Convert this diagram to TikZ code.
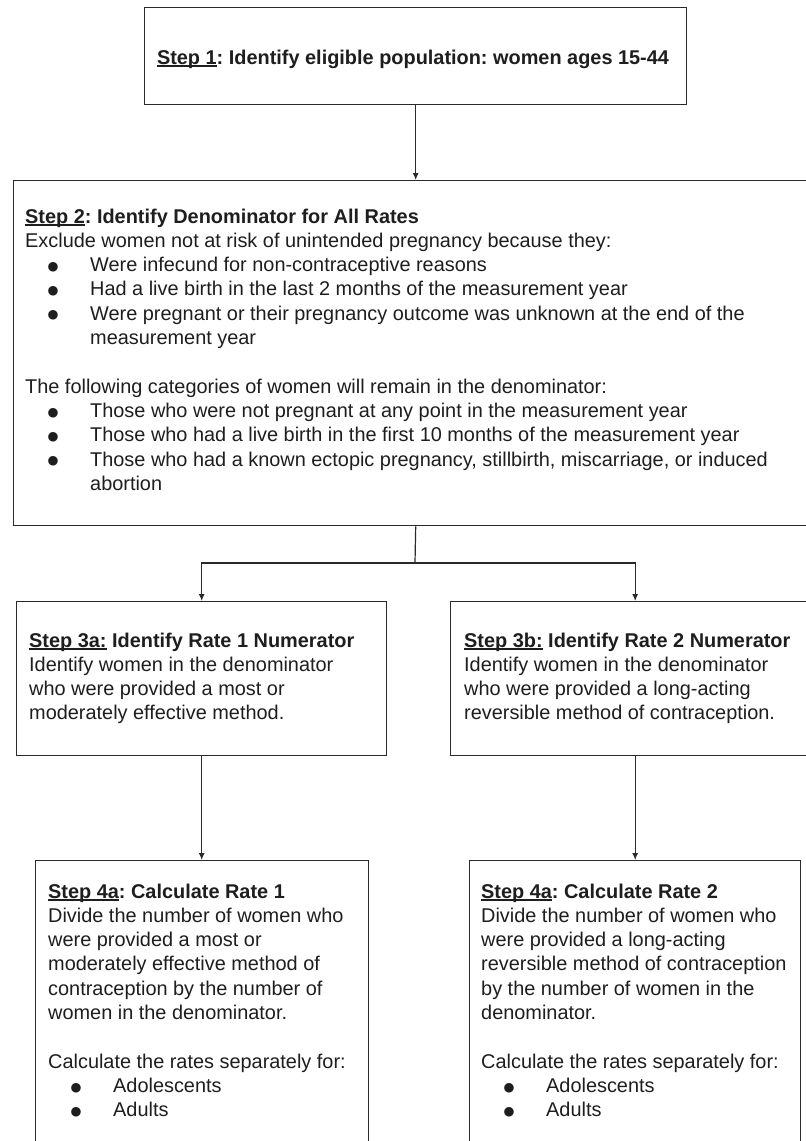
\documentclass[tikz,border=0pt]{standalone}
\usepackage{fontspec}
\setmainfont{Liberation Sans}
\newfontfamily\dv{DejaVu Sans}
\usetikzlibrary{arrows.meta}
\definecolor{ink}{HTML}{1E1E1E}
\definecolor{edge}{HTML}{2A2A2A}
\frenchspacing
\newcommand\ulx[1]{\setbox0\hbox{#1}\rlap{\rule[-2.6pt]{\wd0}{1.3pt}}\box0\relax}
\newcommand\blk[2]{\vtop{\hsize=#1\parindent=0pt\fontsize{19.9}{24.3}\selectfont #2}}
\newcommand\lin[1]{\hbox{#1}}
\newcommand\bigbul{\raisebox{1.3pt}{\dv\fontsize{12.5}{12.5}\selectfont ●}}
\newcommand\bul[1]{\hbox{\hbox to 65pt{\hskip 22.4pt\bigbul\hfil}#1}}
\newcommand\cont[1]{\hbox{\hskip 65pt #1}}
\begin{document}
\begin{tikzpicture}[x=1pt,y=-1pt,
  box/.style={draw=edge,line width=1.4pt,rectangle,anchor=north west,inner sep=0pt},
  conn/.style={draw=edge,line width=1.2pt,-{Latex[length=7pt,width=6pt]}},
  plain/.style={draw=edge,line width=1.2pt},
  txt/.style={inner sep=0pt,text=ink,anchor=base west}]
\clip (0,0) rectangle (806,1141);
\fill[white] (0,0) rectangle (806,1141);
% boxes
\node[box,minimum width=542pt,minimum height=97pt] (b1) at (144,7) {};
\node[box,minimum width=817pt,minimum height=345pt] (b2) at (13,180) {};
\node[box,minimum width=370pt,minimum height=154pt] (b3) at (16,601) {};
\node[box,minimum width=380pt,minimum height=154pt] (b4) at (450,601) {};
\node[box,minimum width=333pt,minimum height=300pt] (b5) at (35,860) {};
\node[box,minimum width=331pt,minimum height=300pt] (b6) at (469,860) {};
% texts
\node[txt,anchor=base] (t1) at (413,64) {\fontsize{19.9}{24.3}\selectfont\bfseries \ulx{Step 1}: Identify eligible population: women ages 15-44};
\node[txt] (t2) at (25,223) {\blk{770pt}{%
\lin{\bfseries\ulx{Step 2}: Identify Denominator for All Rates}
\lin{Exclude women not at risk of unintended pregnancy because they:}
\bul{Were infecund for non-contraceptive reasons}
\bul{Had a live birth in the last 2 months of the measurement year}
\bul{Were pregnant or their pregnancy outcome was unknown at the end of the}
\cont{measurement year}
\lin{}
\lin{The following categories of women will remain in the denominator:}
\bul{Those who were not pregnant at any point in the measurement year}
\bul{Those who had a live birth in the first 10 months of the measurement year}
\bul{Those who had a known ectopic pregnancy, stillbirth, miscarriage, or induced}
\cont{abortion}}};
\node[txt] (t3) at (29,647) {\blk{350pt}{%
\lin{\bfseries\ulx{Step 3a:} Identify Rate 1 Numerator}
\lin{Identify women in the denominator}
\lin{who were provided a most or}
\lin{moderately effective method.}}};
\node[txt] (t4) at (464,647) {\blk{335pt}{%
\lin{\bfseries\ulx{Step 3b:} Identify Rate 2 Numerator}
\lin{Identify women in the denominator}
\lin{who were provided a long-acting}
\lin{reversible method of contraception.}}};
\node[txt] (t5) at (48,898) {\blk{315pt}{%
\lin{\bfseries\ulx{Step 4a}: Calculate Rate 1}
\lin{Divide the number of women who}
\lin{were provided a most or}
\lin{moderately effective method of}
\lin{contraception by the number of}
\lin{women in the denominator.}
\lin{}
\lin{Calculate the rates separately for:}
\bul{Adolescents}
\bul{Adults}}};
\node[txt] (t6) at (481,898) {\blk{315pt}{%
\lin{\bfseries\ulx{Step 4a}: Calculate Rate 2}
\lin{Divide the number of women who}
\lin{were provided a long-acting}
\lin{reversible method of contraception}
\lin{by the number of women in the}
\lin{denominator.}
\lin{}
\lin{Calculate the rates separately for:}
\bul{Adolescents}
\bul{Adults}}};
% connectors
\draw[conn] (b1.south) -- (b1.south |- b2.north);
\coordinate (j) at (415,563);
\draw[plain] (b1.south |- b2.south) -- (j);
\draw[conn] (j) -| (b3.north);
\draw[conn] (j) -| (b6.north |- b4.north);
\draw[conn] (b3.south) -- (b3.south |- b5.north);
\draw[conn] (b6.north |- b4.south) -- (b6.north);
\end{tikzpicture}
\end{document}
